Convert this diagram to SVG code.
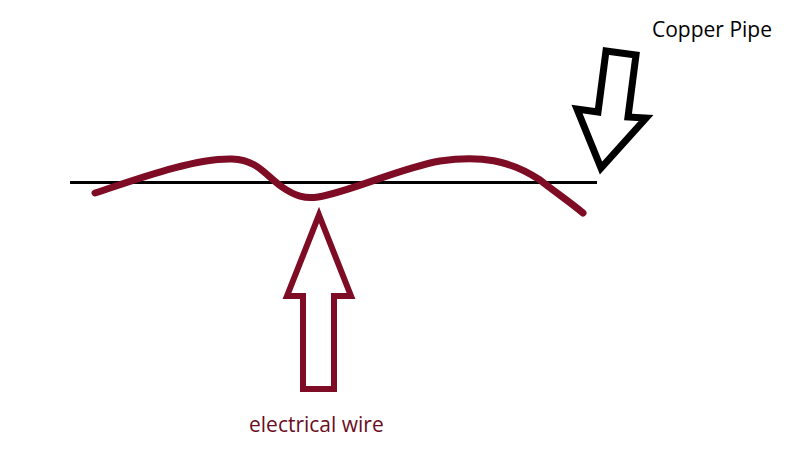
<svg xmlns="http://www.w3.org/2000/svg" width="800" height="450" viewBox="0 0 800 450">
<style>
.lbl{font-family:"Open Sans","Noto Sans","Liberation Sans",sans-serif;font-size:21px}
.wire{fill:none;stroke:#7e0c25;stroke-width:7;stroke-linecap:round;stroke-linejoin:round}
.pipe{fill:none;stroke:#000;stroke-width:3}
</style>
<rect width="800" height="450" fill="#fff"/>
<g id="pipe">
<path class="pipe" d="M70,182.5 H597"/>
</g>
<g id="wire">
<path class="wire" d="M95,193 C140,178 195,158 232,159 C258,160 265,175 282,187 C295,196 305,199 318,197 C350,192 400,168 440,161 C480,155 510,160 540,180 C555,192 570,202 583,213"/>
</g>
<g id="connectors">
<polygon points="606,51 636,55 628,117 646,118 601,168 577,109 598,112" fill="#fff" stroke="#000" stroke-width="7" stroke-linejoin="miter"/>
<polygon points="319,215 351,296 334,296 334,389 303,389 303,296 287,296" fill="#fff" stroke="#7e0c25" stroke-width="6" stroke-linejoin="miter"/>
</g>
<g id="label-copper">
<text class="lbl" x="652" y="37" fill="#000">Copper Pipe</text>
</g>
<g id="label-wire">
<text class="lbl" x="249" y="432" fill="#6b0d22">electrical wire</text>
</g>
</svg>
